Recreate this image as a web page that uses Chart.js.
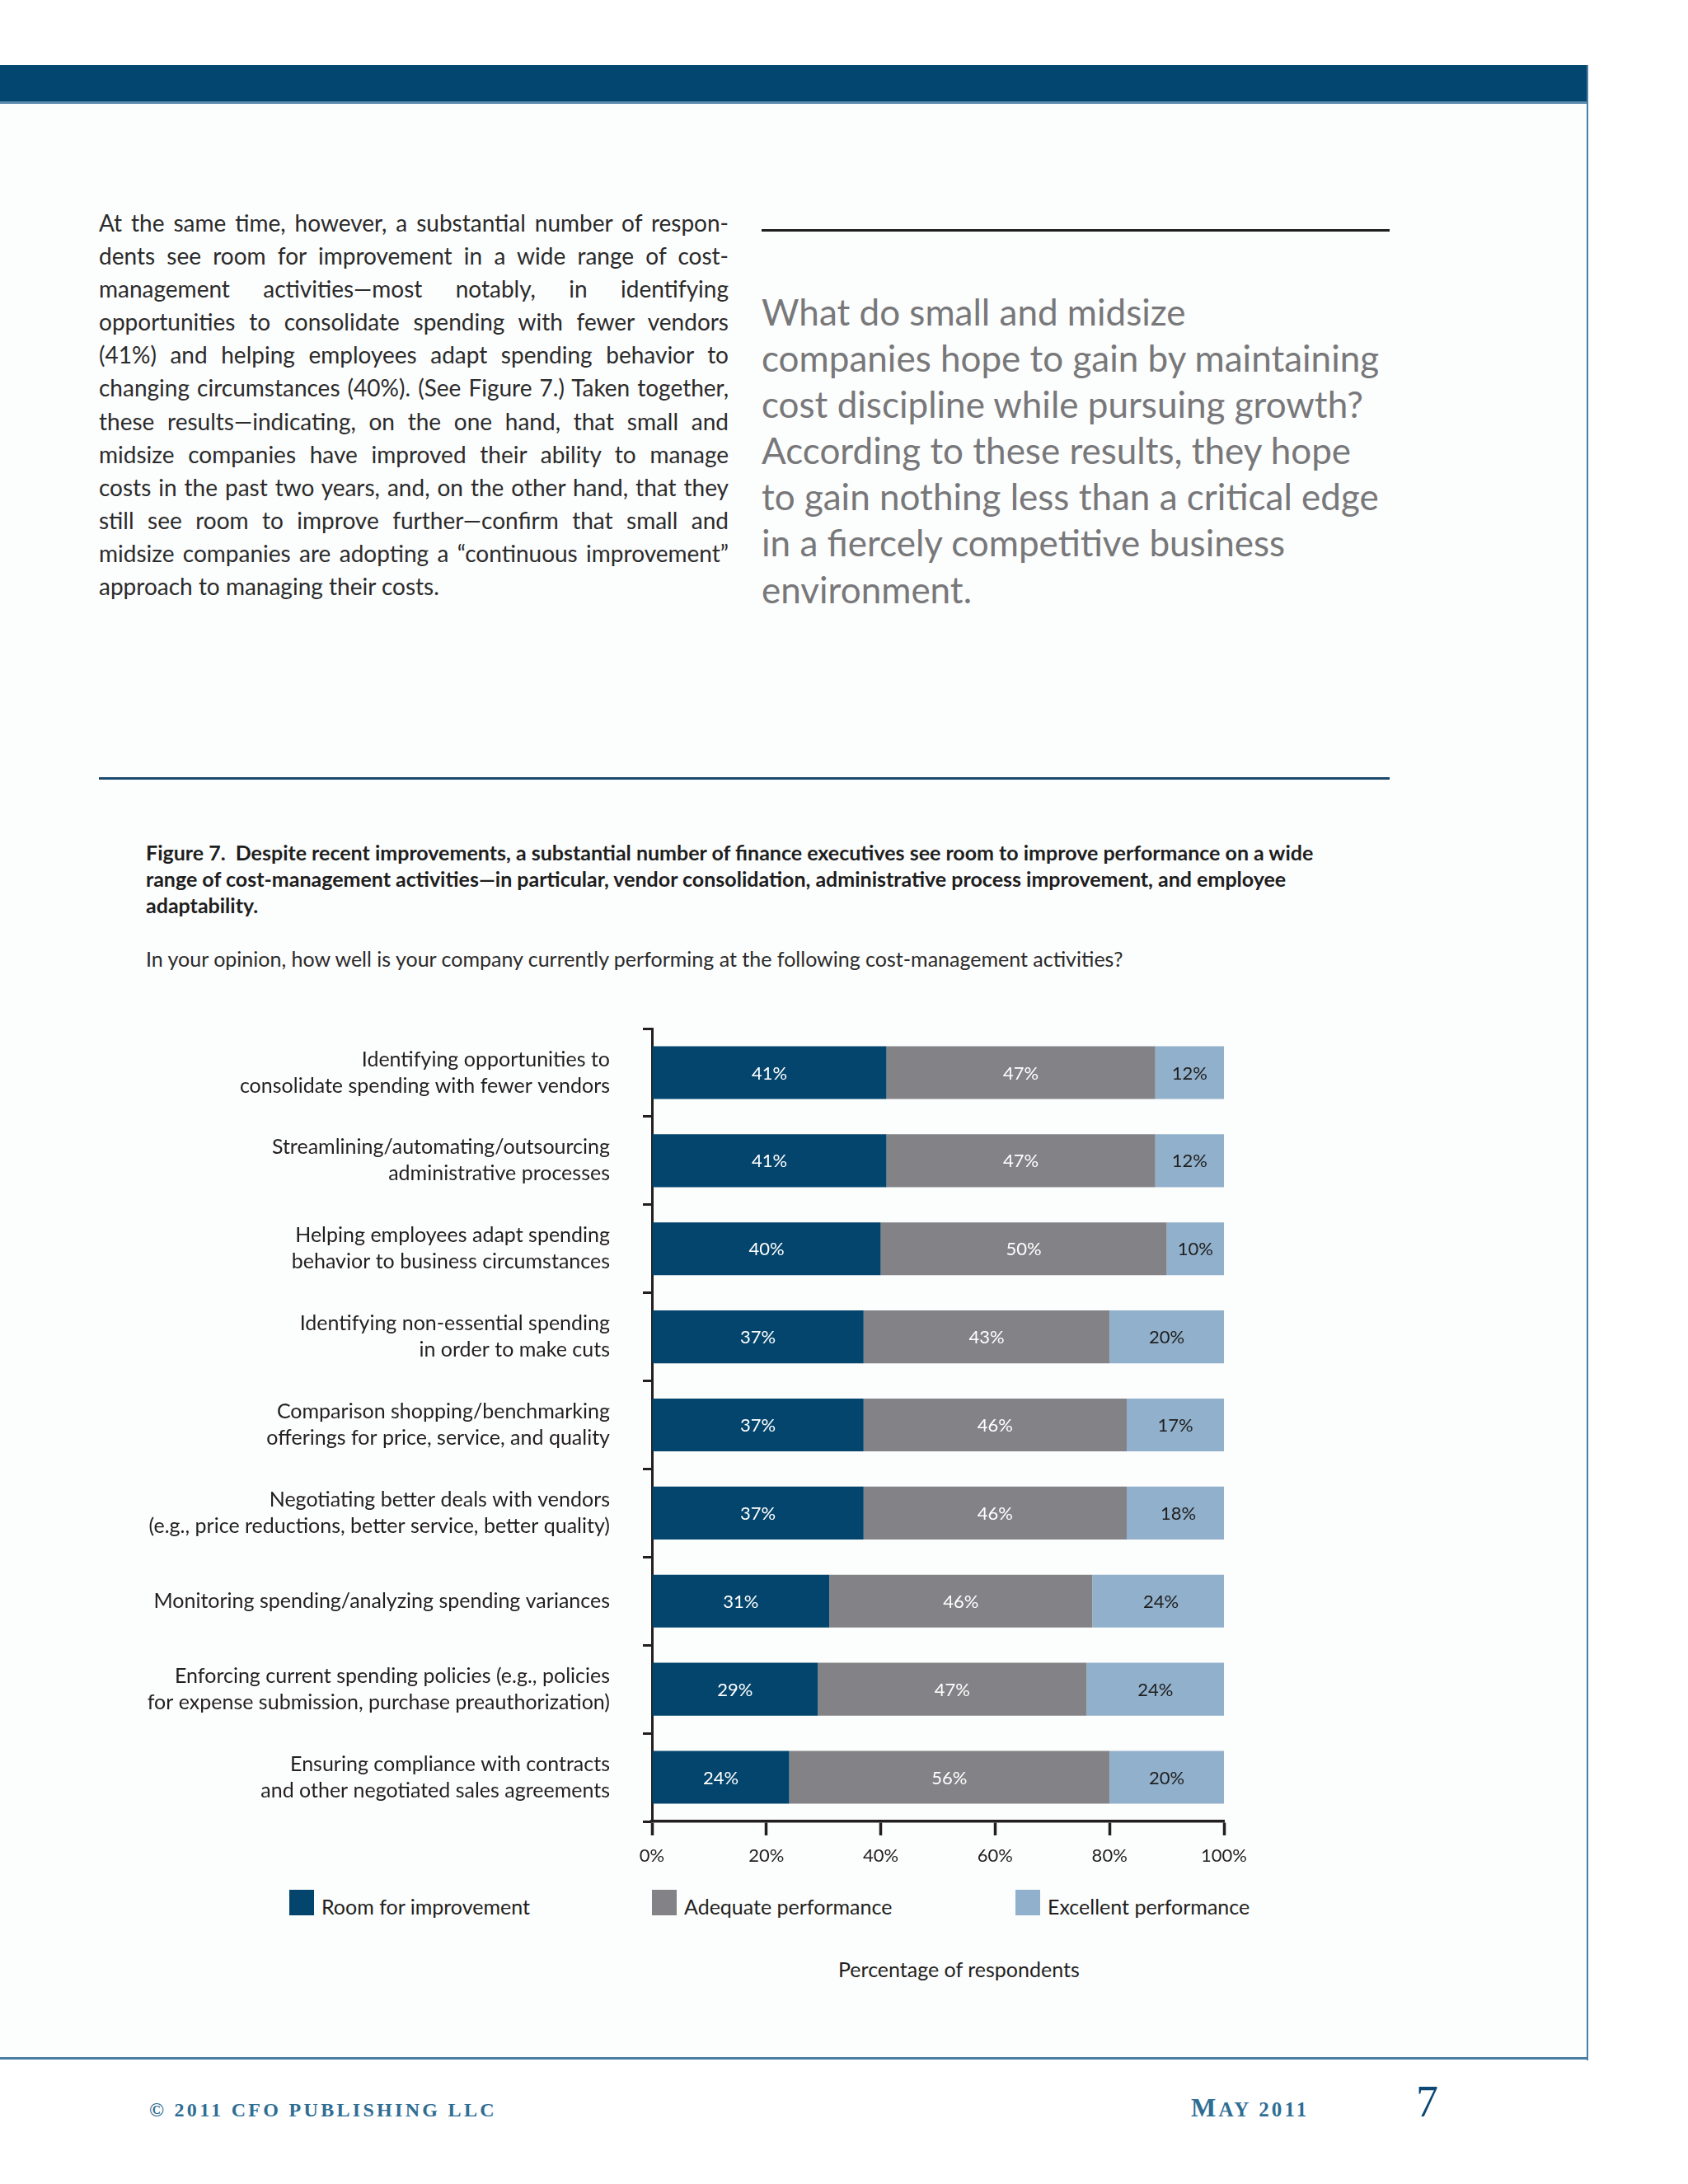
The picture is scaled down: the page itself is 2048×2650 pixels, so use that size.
<!DOCTYPE html>
<html>
<head>
<meta charset="utf-8">
<script src="https://cdn.jsdelivr.net/npm/chart.js"></script>
<style>
  html, body { margin: 0; padding: 0; }
  body { width: 2048px; height: 2650px; position: relative; background: #ffffff; font-family: Lato, sans-serif; overflow: hidden; }
  .abs { position: absolute; }
  #page { left: 0; top: 79px; width: 1926px; height: 2420px; background: #fcfdfd; }
  #topbar { left: 0; top: 79px; width: 1926px; height: 44px; background: #03466f; border-bottom: 3px solid #5d8cae; }
  #rightline { left: 1925px; top: 79px; width: 2px; height: 2421px; background: #4a7ea3; }
  #bottomline { left: 0; top: 2496px; width: 1927px; height: 3px; background: #4a7ea3; }
  #body { left: 120px; top: 250px; width: 764px; font-size: 28px; line-height: 40.1px; color: #2b2b2b; }
  #body div { white-space: nowrap; text-align: justify; text-align-last: justify; }
  #body div.last { text-align-last: left; }
  #quoterule { left: 924px; top: 278px; width: 762px; height: 3px; background: #1e1e1e; }
  #quote { left: 924px; top: 350px; font-size: 44px; line-height: 56.1px; color: #78787a; white-space: nowrap; }
  #bluerule { left: 120px; top: 943px; width: 1566px; height: 3px; background: #1b4a6b; }
  #title { left: 177px; top: 1018px; font-size: 25px; line-height: 32px; font-weight: bold; color: #1e1e1e; white-space: nowrap; }
  #subtitle { left: 177px; top: 1147px; font-size: 25px; line-height: 32px; color: #2b2b2b; white-space: nowrap; }
  #chartbox { left: 0; top: 1176px; width: 1600px; height: 1114px; }
  .legsq { width: 30px; height: 31px; }
  .legtx { font-size: 25px; line-height: 31px; color: #231f20; white-space: nowrap; }
  #xtitle { left: 1017px; top: 2373px; font-size: 25px; line-height: 32px; color: #231f20; white-space: nowrap; }
  .foot { font-family: "Liberation Serif", serif; font-weight: bold; color: #2f6d93; white-space: nowrap; }
  #copy { left: 181px; top: 2546px; font-size: 24px; line-height: 28px; letter-spacing: 3.3px; }
  #month { left: 1445px; top: 2540px; font-size: 25px; line-height: 34px; letter-spacing: 3.2px; }
  #month .big { font-size: 32px; }
  #pageno { left: 1718px; top: 2520px; font-family: "Liberation Serif", serif; font-size: 54px; line-height: 60px; color: #0b4873; }
</style>
</head>
<body>
<div id="page" class="abs"></div>
<div id="topbar" class="abs"></div>
<div id="rightline" class="abs"></div>
<div id="bottomline" class="abs"></div>

<div id="body" class="abs">
  <div>At the same time, however, a substantial number of respon-</div>
  <div>dents see room for improvement in a wide range of cost-</div>
  <div>management activities—most notably, in identifying</div>
  <div>opportunities to consolidate spending with fewer vendors</div>
  <div>(41%) and helping employees adapt spending behavior to</div>
  <div>changing circumstances (40%). (See Figure 7.) Taken together,</div>
  <div>these results—indicating, on the one hand, that small and</div>
  <div>midsize companies have improved their ability to manage</div>
  <div>costs in the past two years, and, on the other hand, that they</div>
  <div>still see room to improve further—confirm that small and</div>
  <div>midsize companies are adopting a “continuous improvement”</div>
  <div class="last">approach to managing their costs.</div>
</div>

<div id="quoterule" class="abs"></div>
<div id="quote" class="abs">What do small and midsize<br>companies hope to gain by maintaining<br>cost discipline while pursuing growth?<br>According to these results, they hope<br>to gain nothing less than a critical edge<br>in a fiercely competitive business<br>environment.</div>

<div id="bluerule" class="abs"></div>
<div id="title" class="abs">Figure 7.&nbsp; Despite recent improvements, a substantial number of finance executives see room to improve performance on a wide<br>range of cost-management activities—in particular, vendor consolidation, administrative process improvement, and employee<br>adaptability.</div>
<div id="subtitle" class="abs">In your opinion, how well is your company currently performing at the following cost-management activities?</div>

<div id="chartbox" class="abs"><canvas id="chart"></canvas></div>
<div id="legend"></div>
<div id="xtitle" class="abs">Percentage of respondents</div>

<div id="copy" class="abs foot">© 2011 CFO PUBLISHING LLC</div>
<div id="month" class="abs foot"><span class="big">M</span>AY 2011</div>
<div id="pageno" class="abs">7</div>

<script>
// ---- data ----
const categories = [
  ['Identifying opportunities to', 'consolidate spending with fewer vendors'],
  ['Streamlining/automating/outsourcing', 'administrative processes'],
  ['Helping employees adapt spending', 'behavior to business circumstances'],
  ['Identifying non-essential spending', 'in order to make cuts'],
  ['Comparison shopping/benchmarking', 'offerings for price, service, and quality'],
  ['Negotiating better deals with vendors', '(e.g., price reductions, better service, better quality)'],
  'Monitoring spending/analyzing spending variances',
  ['Enforcing current spending policies (e.g., policies', 'for expense submission, purchase preauthorization)'],
  ['Ensuring compliance with contracts', 'and other negotiated sales agreements']
];
const roomForImprovement = [41, 41, 40, 37, 37, 37, 31, 29, 24];
const adequatePerformance = [47, 47, 50, 43, 46, 46, 46, 47, 56];
const excellentPerformance = [12, 12, 10, 20, 17, 18, 24, 24, 20];
const seriesNames = ['Room for improvement', 'Adequate performance', 'Excellent performance'];
const xTicks = [0, 20, 40, 60, 80, 100];

// ---- styling ----
const seriesColors = ['#03456d', '#838387', '#91b0cb'];
const valueColors = ['#ffffff', '#ffffff', '#1e1e1e'];
const axisColor = '#231f20';

// legend (html, fixed positions like the original page)
const legendX = [351, 791, 1232];
const legend = document.getElementById('legend');
seriesNames.forEach((name, i) => {
  const sq = document.createElement('div');
  sq.className = 'abs legsq';
  sq.style.left = legendX[i] + 'px';
  sq.style.top = '2293px';
  sq.style.background = seriesColors[i];
  legend.appendChild(sq);
  const tx = document.createElement('div');
  tx.className = 'abs legtx';
  tx.style.left = (legendX[i] + 39) + 'px';
  tx.style.top = '2298px';
  tx.textContent = name;
  legend.appendChild(tx);
});

// value labels inside each segment
const barValueLabels = {
  id: 'barValueLabels',
  afterDatasetsDraw(chart) {
    const ctx = chart.ctx;
    ctx.save();
    ctx.font = '22px Lato';
    ctx.textAlign = 'center';
    ctx.textBaseline = 'middle';
    chart.data.datasets.forEach((ds, i) => {
      chart.getDatasetMeta(i).data.forEach((bar, j) => {
        const p = bar.getProps(['x', 'y', 'base'], true);
        ctx.fillStyle = valueColors[i];
        ctx.fillText(ds.data[j] + '%', (p.x + p.base) / 2, p.y + 1);
      });
    });
    ctx.restore();
  }
};

const datasets = [roomForImprovement, adequatePerformance, excellentPerformance].map((vals, i) => ({
  label: seriesNames[i],
  data: vals,
  backgroundColor: seriesColors[i],
  borderWidth: 0,
  barPercentage: 0.6,
  categoryPercentage: 1.0
}));

new Chart(document.getElementById('chart'), {
  type: 'bar',
  data: { labels: categories, datasets: datasets },
  options: {
    indexAxis: 'y',
    responsive: true,
    maintainAspectRatio: false,
    animation: false,
    layout: { padding: { top: 47, right: 115, bottom: 0, left: 0 } },
    plugins: { legend: { display: false }, tooltip: { enabled: false } },
    scales: {
      x: {
        stacked: true,
        min: 0,
        max: 100,
        afterBuildTicks: (scale) => { scale.ticks = xTicks.map(v => ({ value: v })); },
        ticks: {
          callback: (v) => v + '%',
          color: axisColor,
          font: { family: 'Lato', size: 22 },
          padding: 12,
          maxRotation: 0
        },
        grid: { drawOnChartArea: false, tickLength: 17, tickWidth: 3.5, tickColor: axisColor },
        border: { color: axisColor, width: 3.5 },
        afterFit: (scale) => { scale.height = 80; }
      },
      y: {
        stacked: true,
        ticks: {
          color: axisColor,
          font: { family: 'Lato', size: 25, lineHeight: 1.28 },
          padding: 40
        },
        grid: { offset: true, drawOnChartArea: false, tickLength: 11, tickWidth: 3, tickColor: axisColor },
        border: { color: axisColor, width: 3 },
        afterFit: (scale) => { scale.width = 791; }
      }
    }
  },
  plugins: [barValueLabels]
});
</script>
</body>
</html>
